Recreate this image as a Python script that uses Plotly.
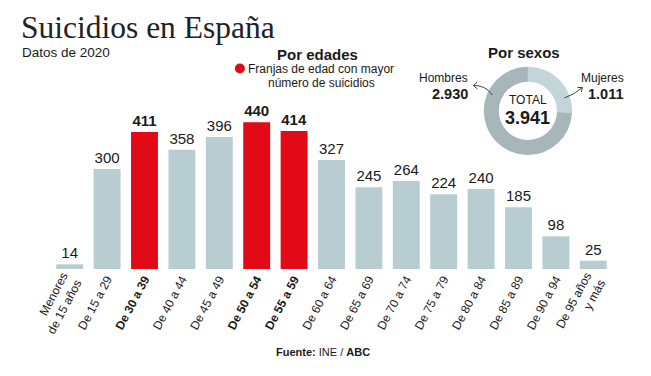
import plotly.graph_objects as go

# ---- data ----
categories = ["Menores<br>de 15 años", "De 15 a 29", "De 30 a 39", "De 40 a 44", "De 45 a 49",
              "De 50 a 54", "De 55 a 59", "De 60 a 64", "De 65 a 69", "De 70 a 74",
              "De 75 a 79", "De 80 a 84", "De 85 a 89", "De 90 a 94", "De 95 años<br>y más"]
values = [14, 300, 411, 358, 396, 440, 414, 327, 245, 264, 224, 240, 185, 98, 25]
highlight = [False, False, True, False, False, True, True, False, False, False,
             False, False, False, False, False]
sex_labels = ["Mujeres", "Hombres"]
sex_values = [1011, 2930]
total = 3941

GRAY = "#b8cdd2"
RED = "#e30a17"
TXT = "#1a1a1a"

W, H = 651, 376
L, R, T, B = 50.6, 611.6, 20, 269
PW, PH = R - L, B - T
ymax = 500 * PH / 166.7


def px(x):
    return (x - L) / PW


def py(y):
    return (B - y) / PH


bar_colors = [RED if h else GRAY for h in highlight]
bar_text = [f"<b>{v}</b>" if h else str(v) for v, h in zip(values, highlight)]
tick_text = [f"<b>{c}</b>" if h else c for c, h in zip(categories, highlight)]

fig = go.Figure()
fig.add_trace(go.Bar(
    x=categories, y=values, marker=dict(color=bar_colors, line=dict(width=0)),
    text=bar_text, textposition="outside", cliponaxis=False,
    textfont=dict(size=15, color=TXT, family="Liberation Sans, Arial"),
    hoverinfo="skip", showlegend=False,
))

fig.add_trace(go.Pie(
    labels=sex_labels, values=sex_values, sort=False, direction="clockwise", rotation=0,
    hole=0.66, textinfo="none", showlegend=False, hoverinfo="skip",
    marker=dict(colors=["#c4d5d9", "#a6b6b9"], line=dict(width=0)),
    domain=dict(x=[px(483.3), px(571.7)], y=[py(155), py(66.7)]),
))

annotations = []


def add_text(x, y, text, size, bold=False, family="Liberation Sans, Arial", xanchor="center", color=TXT):
    annotations.append(dict(
        x=px(x), y=py(y), xref="paper", yref="paper", text=f"<b>{text}</b>" if bold else text,
        showarrow=False, xanchor=xanchor, yanchor="middle",
        font=dict(size=size, family=family, color=color),
    ))


add_text(19, 27, "Suicidios en España", 31.5, family="Liberation Serif, Times New Roman", xanchor="left", color="#222")
add_text(20, 53, "Datos de 2020", 13.5, xanchor="left")
add_text(317, 55, "Por edades", 15, bold=True)
add_text(321, 68.5, "Franjas de edad con mayor", 12)
add_text(321, 82.5, "número de suicidios", 12)
add_text(524, 53, "Por sexos", 15, bold=True)
add_text(443, 77.5, "Hombres", 12)
add_text(450, 94.5, "2.930", 14.5, bold=True)
add_text(602, 77.5, "Mujeres", 12)
add_text(606, 94.5, "1.011", 14.5, bold=True)
add_text(527.5, 99.5, "TOTAL", 12)
add_text(527.5, 117.5, "3.941", 18, bold=True)
annotations.append(dict(
    x=px(323), y=py(352), xref="paper", yref="paper",
    text="<b>Fuente:</b> INE / <b>ABC</b>", showarrow=False, xanchor="center", yanchor="middle",
    font=dict(size=11, family="Liberation Sans, Arial", color=TXT),
))

shapes = [
    dict(type="circle", xref="paper", yref="paper",
         x0=px(234.5), x1=px(244.5), y0=py(73.5), y1=py(63.5),
         fillcolor=RED, line=dict(width=0)),
]


def arrow_path(x0, y0, cx, cy, x1, y1, h1, h2):
    return (f"M {px(x0)} {py(y0)} Q {px(cx)} {py(cy)} {px(x1)} {py(y1)} "
            f"M {px(h1[0])} {py(h1[1])} L {px(x1)} {py(y1)} L {px(h2[0])} {py(h2[1])}")


shapes.append(dict(type="path", xref="paper", yref="paper",
                   path=arrow_path(492, 95, 485, 85, 473, 85.5, (477, 82), (477, 89)),
                   line=dict(color="#444", width=1)))
shapes.append(dict(type="path", xref="paper", yref="paper",
                   path=arrow_path(564, 98, 573, 95, 582, 87.5, (577, 87.5), (581, 92)),
                   line=dict(color="#444", width=1)))

fig.update_layout(
    width=W, height=H, autosize=False,
    margin=dict(l=L, r=W - R, t=T, b=H - B, pad=0, autoexpand=False),
    paper_bgcolor="white", plot_bgcolor="white",
    bargap=0.28,
    xaxis=dict(tickmode="array", tickvals=categories, ticktext=tick_text, tickangle=-62,
               tickfont=dict(size=12, color=TXT, family="Liberation Sans, Arial"),
               showgrid=False, showline=False, zeroline=False, ticks="", fixedrange=True,
               automargin=False),
    yaxis=dict(range=[0, ymax], visible=False, showgrid=False, zeroline=False, fixedrange=True,
               automargin=False),
    annotations=annotations, shapes=shapes,
    font=dict(family="Liberation Sans, Arial"),
)

fig.write_html("out.html", config={"displayModeBar": False},
               post_script="document.body.style.margin='0';document.body.style.padding='0';")
